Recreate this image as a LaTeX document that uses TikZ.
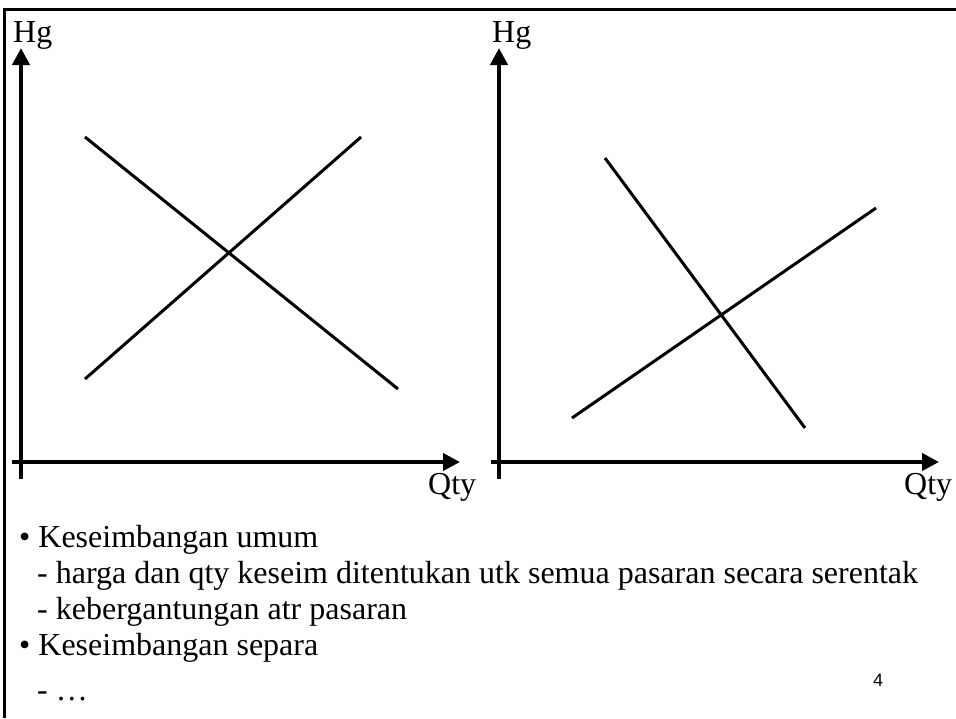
\documentclass[tikz,border=0pt]{standalone}
\usepackage{fontspec}
\setmainfont{Liberation Serif}
\newfontfamily\numfont{Liberation Sans}
\usetikzlibrary{arrows.meta}
\tikzset{
  frameline/.style={line width=3pt},
  axisline/.style={line width=4pt,-{Triangle[width=17pt,length=17pt]}},
  curveline/.style={line width=3pt},
  lbl/.style={font=\fontsize{32}{36}\selectfont,inner sep=0pt},
  txt/.style={font=\fontsize{32}{36}\selectfont,inner sep=0pt,anchor=base west},
}
\begin{document}
\begin{tikzpicture}[x=1pt,y=-1pt]
\useasboundingbox (0,0) rectangle (956,718);
% frame
\coordinate (ftr) at (956,9);
\coordinate (ftl) at (4.5,9);
\coordinate (fbl) at (4.5,718);
\draw[frameline] (ftr) -- (ftl) -- (fbl);
% left axes
\coordinate (ly0) at (21,479);
\coordinate (ly1) at (21,48);
\coordinate (lx0) at (12,462);
\coordinate (lx1) at (460,462);
\draw[axisline] (ly0) -- (ly1);
\draw[axisline] (lx0) -- (lx1);
\node[lbl,anchor=base west] (hg1) at (13,42) {Hg};
\node[lbl,anchor=base west] (q1) at (428,494) {Qty};
% left curves
\coordinate (a1) at (85,137);
\coordinate (a2) at (398,389);
\coordinate (b1) at (85,379);
\coordinate (b2) at (361,137);
\draw[curveline] (a1) -- (a2);
\draw[curveline] (b1) -- (b2);
% right axes
\coordinate (ry0) at (499,479);
\coordinate (ry1) at (499,48);
\coordinate (rx0) at (491,462);
\coordinate (rx1) at (939,462);
\draw[axisline] (ry0) -- (ry1);
\draw[axisline] (rx0) -- (rx1);
\node[lbl,anchor=base west] (hg2) at (492,42) {Hg};
\node[lbl,anchor=base west] (q2) at (904,494) {Qty};
% right curves
\coordinate (c1) at (605,158);
\coordinate (c2) at (805,428);
\coordinate (d1) at (572,418);
\coordinate (d2) at (876,208);
\draw[curveline] (c1) -- (c2);
\draw[curveline] (d1) -- (d2);
% text
\node[txt] (t1) at (19,547) {\textbullet\ Keseimbangan umum};
\node[txt] (t2) at (37,583) {- harga dan qty keseim ditentukan utk semua pasaran secara serentak};
\node[txt] (t3) at (37,619) {- kebergantungan atr pasaran};
\node[txt] (t4) at (19,655) {\textbullet\ Keseimbangan separa};
\node[txt] (t5) at (37,700) {- \ldots};
\node[inner sep=0pt,anchor=base west,font=\numfont\fontsize{18}{20}\selectfont] (pg) at (873,686) {4};
\end{tikzpicture}
\end{document}
